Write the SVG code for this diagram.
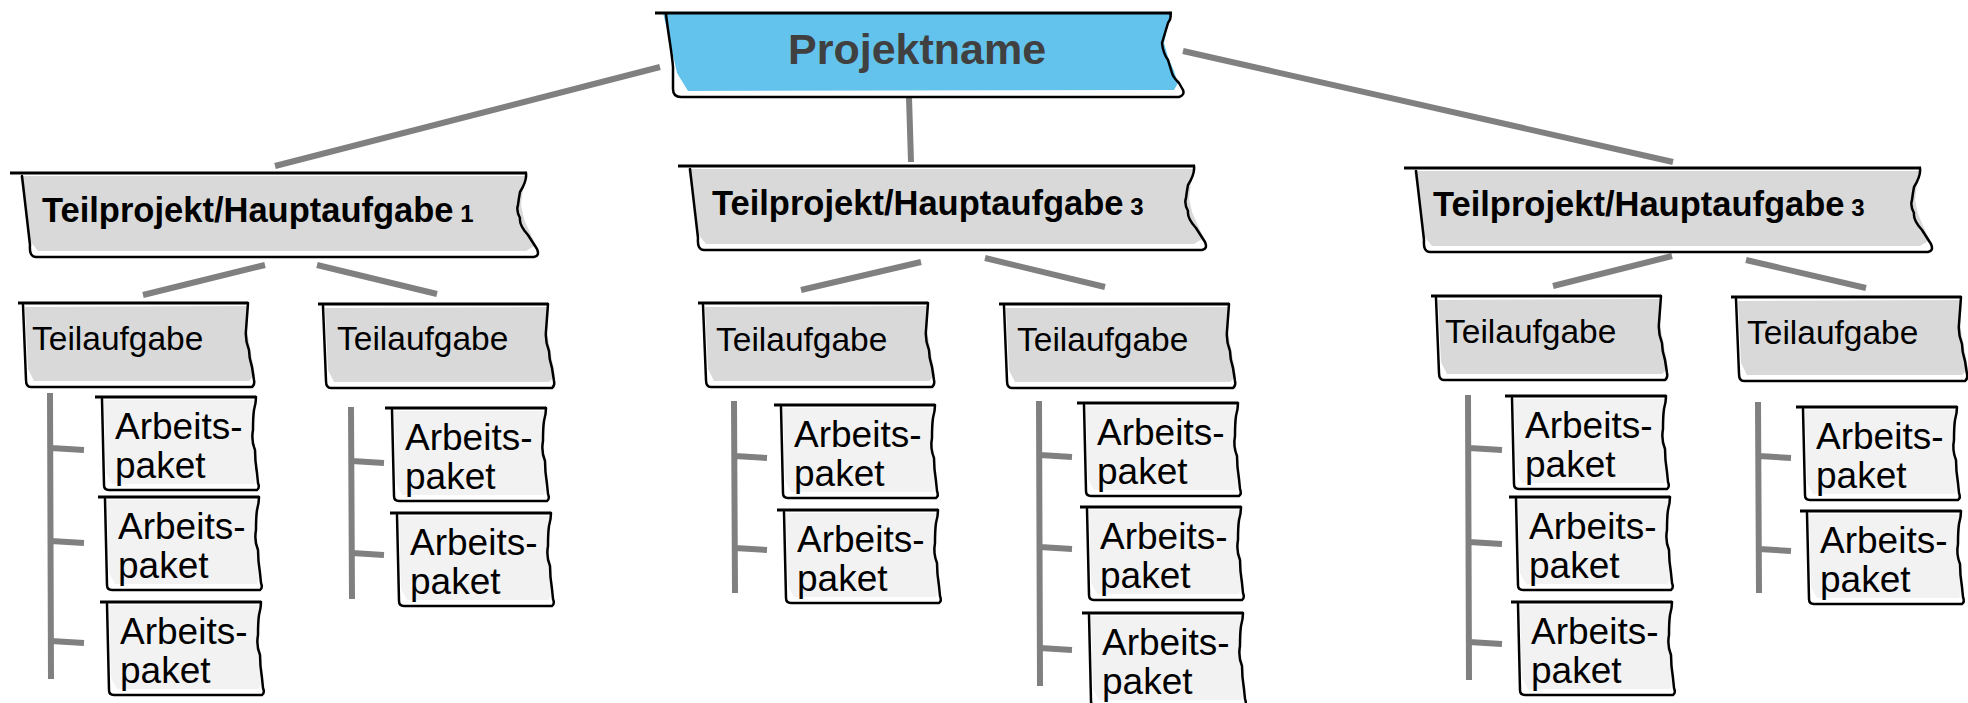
<svg xmlns="http://www.w3.org/2000/svg" xmlns:xlink="http://www.w3.org/1999/xlink" width="1968" height="703" viewBox="0 0 1968 703">
<style>
.ol{fill:none;stroke:#000;stroke-width:2.5;stroke-linejoin:round;stroke-linecap:round}
.tl{fill:none;stroke:#000;stroke-width:3.2;stroke-linecap:butt}
.con{fill:none;stroke:#808080;stroke-width:6;stroke-linecap:butt}
.pn-t{font-family:"Liberation Sans",Arial,sans-serif;font-weight:bold;font-size:43px;fill:#404040}
.tp-t{font-family:"Liberation Sans",Arial,sans-serif;font-weight:bold;font-size:34.5px;fill:#000}
.tp-n{font-size:24px}
.ta-t{font-family:"Liberation Sans",Arial,sans-serif;font-size:33.5px;fill:#000}
.ap-t{font-family:"Liberation Sans",Arial,sans-serif;font-size:37px;fill:#000}
</style>
<defs>
<g id="pn-shape">
<path d="M8,0 L517,1 L512,16 L509,30 L513,44 L519,58 L523,70 L519,77 L33,78 L22,60 L13,20 Z" fill="#63C3EC"/>
<path class="tl" d="M0,0 L517,0"/>
<path class="ol" d="M11,1 C13,20 17,40 18,54 L18,76 Q18,84 26,84 L524,84 Q530,82 528,77 L524,70 Q518,64 517,60 L513,47 Q508,40 507,30 Q510,20 513,10 Q517,5 515,0"/>
</g>
<g id="tp-shape">
<path d="M10,3 L518,3 L513,16 L511,32 L514,46 L521,62 L526,72 L516,78 L28,78 L20,68 L13,20 Z" fill="#D9D9D9"/>
<path class="tl" d="M0,0 L517,0"/>
<path class="ol" d="M12,3 Q15,30 20,72 Q19,84 26,84 L524,84 Q530,83 527,76 L518,62 Q509,52 510,45 Q506,38 508,32 Q509,24 510,19 Q517,8 516,0"/>
</g>
<g id="ta-shape">
<path d="M7,4 L231,3 L229,28 L233,50 L237,72 L231,78 L16,78 L10,66 Z" fill="#D9D9D9"/>
<path class="tl" d="M0,0 L230,0"/>
<path class="ol" d="M5,2 L8,77 Q8,84 13,84 L234,84 Q237,82 236,77 L234,64 Q231,55 231,47 Q227,37 228,27 Q229,14 230,0"/>
</g>
<g id="ap-shape">
<path d="M6,3 L157,3 L155,30 L159,78 L156,87 L14,87 L8,76 Z" fill="#F2F2F2"/>
<path class="tl" d="M-3,0 L158,0"/>
<path class="ol" d="M4,2 L6,88 Q6,93 11,93 L159,93 Q162,91 160,86 L159,76 Q157,64 157,53 Q153,43 155,33 Q155,20 156,13 Q158,6 158,0"/>
</g>
</defs>

<g id="connectors">
<path class="con" d="M660,67 L275,166"/>
<path class="con" d="M909,97 L911,162"/>
<path class="con" d="M1183,51 L1673,162"/>
<path class="con" d="M265,265 L143,295"/>
<path class="con" d="M317,265 L437,294"/>
<path class="con" d="M921,262 L801,290"/>
<path class="con" d="M985,258 L1105,287"/>
<path class="con" d="M1672,256 L1553,286"/>
<path class="con" d="M1746,260 L1866,288"/>
<path class="con" d="M50,393 L51,679 M51,448 L84,450 M51,541 L84,543 M51,641 L84,643"/>
<path class="con" d="M351,407 L352,599 M352,461 L384,463 M352,553 L384,555"/>
<path class="con" d="M734,401 L735,593 M735,456 L767,458 M735,548 L767,550"/>
<path class="con" d="M1039,401 L1040,686 M1040,455 L1072,457 M1040,547 L1072,549 M1040,648 L1072,650"/>
<path class="con" d="M1468,395 L1469,680 M1469,448 L1502,450 M1469,542 L1502,544 M1469,642 L1502,644"/>
<path class="con" d="M1758,402 L1759,593 M1759,456 L1791,458 M1759,549 L1791,551"/>
</g>

<g id="projektname" transform="translate(655,13)">
<use xlink:href="#pn-shape"/>
<text class="pn-t" x="133" y="51">Projektname</text>
</g>

<g id="tp1" transform="translate(10,173)">
<use xlink:href="#tp-shape"/>
<text class="tp-t" x="32" y="49">Teilprojekt/Hauptaufgabe<tspan class="tp-n"> 1</tspan></text>
</g>
<g id="tp2" transform="translate(678,166)">
<use xlink:href="#tp-shape"/>
<text class="tp-t" x="34" y="49">Teilprojekt/Hauptaufgabe<tspan class="tp-n"> 3</tspan></text>
</g>
<g id="tp3" transform="translate(1404,168)">
<use xlink:href="#tp-shape"/>
<text class="tp-t" x="29" y="48">Teilprojekt/Hauptaufgabe<tspan class="tp-n"> 3</tspan></text>
</g>

<g id="ta1" transform="translate(18,303)">
<use xlink:href="#ta-shape"/>
<text class="ta-t" x="14" y="47">Teilaufgabe</text>
</g>
<g id="ta2" transform="translate(318,304)">
<use xlink:href="#ta-shape"/>
<text class="ta-t" x="19" y="46">Teilaufgabe</text>
</g>
<g id="ta3" transform="translate(698,303)">
<use xlink:href="#ta-shape"/>
<text class="ta-t" x="18" y="48">Teilaufgabe</text>
</g>
<g id="ta4" transform="translate(999,304)">
<use xlink:href="#ta-shape"/>
<text class="ta-t" x="18" y="47">Teilaufgabe</text>
</g>
<g id="ta5" transform="translate(1431,296)">
<use xlink:href="#ta-shape"/>
<text class="ta-t" x="14" y="47">Teilaufgabe</text>
</g>
<g id="ta6" transform="translate(1731,297)">
<use xlink:href="#ta-shape"/>
<text class="ta-t" x="16" y="47">Teilaufgabe</text>
</g>

<g id="ap1" transform="translate(98,397)"><use xlink:href="#ap-shape"/><text class="ap-t"><tspan x="17" y="42">Arbeits-</tspan><tspan x="17" y="81">paket</tspan></text></g>
<g id="ap2" transform="translate(101,497)"><use xlink:href="#ap-shape"/><text class="ap-t"><tspan x="17" y="42">Arbeits-</tspan><tspan x="17" y="81">paket</tspan></text></g>
<g id="ap3" transform="translate(103,602)"><use xlink:href="#ap-shape"/><text class="ap-t"><tspan x="17" y="42">Arbeits-</tspan><tspan x="17" y="81">paket</tspan></text></g>
<g id="ap4" transform="translate(388,408)"><use xlink:href="#ap-shape"/><text class="ap-t"><tspan x="17" y="42">Arbeits-</tspan><tspan x="17" y="81">paket</tspan></text></g>
<g id="ap5" transform="translate(393,513)"><use xlink:href="#ap-shape"/><text class="ap-t"><tspan x="17" y="42">Arbeits-</tspan><tspan x="17" y="81">paket</tspan></text></g>
<g id="ap6" transform="translate(777,405)"><use xlink:href="#ap-shape"/><text class="ap-t"><tspan x="17" y="42">Arbeits-</tspan><tspan x="17" y="81">paket</tspan></text></g>
<g id="ap7" transform="translate(780,510)"><use xlink:href="#ap-shape"/><text class="ap-t"><tspan x="17" y="42">Arbeits-</tspan><tspan x="17" y="81">paket</tspan></text></g>
<g id="ap8" transform="translate(1080,403)"><use xlink:href="#ap-shape"/><text class="ap-t"><tspan x="17" y="42">Arbeits-</tspan><tspan x="17" y="81">paket</tspan></text></g>
<g id="ap9" transform="translate(1083,507)"><use xlink:href="#ap-shape"/><text class="ap-t"><tspan x="17" y="42">Arbeits-</tspan><tspan x="17" y="81">paket</tspan></text></g>
<g id="ap10" transform="translate(1085,613)"><use xlink:href="#ap-shape"/><text class="ap-t"><tspan x="17" y="42">Arbeits-</tspan><tspan x="17" y="81">paket</tspan></text></g>
<g id="ap11" transform="translate(1508,396)"><use xlink:href="#ap-shape"/><text class="ap-t"><tspan x="17" y="42">Arbeits-</tspan><tspan x="17" y="81">paket</tspan></text></g>
<g id="ap12" transform="translate(1512,497)"><use xlink:href="#ap-shape"/><text class="ap-t"><tspan x="17" y="42">Arbeits-</tspan><tspan x="17" y="81">paket</tspan></text></g>
<g id="ap13" transform="translate(1514,602)"><use xlink:href="#ap-shape"/><text class="ap-t"><tspan x="17" y="42">Arbeits-</tspan><tspan x="17" y="81">paket</tspan></text></g>
<g id="ap14" transform="translate(1799,407)"><use xlink:href="#ap-shape"/><text class="ap-t"><tspan x="17" y="42">Arbeits-</tspan><tspan x="17" y="81">paket</tspan></text></g>
<g id="ap15" transform="translate(1803,511)"><use xlink:href="#ap-shape"/><text class="ap-t"><tspan x="17" y="42">Arbeits-</tspan><tspan x="17" y="81">paket</tspan></text></g>
</svg>
